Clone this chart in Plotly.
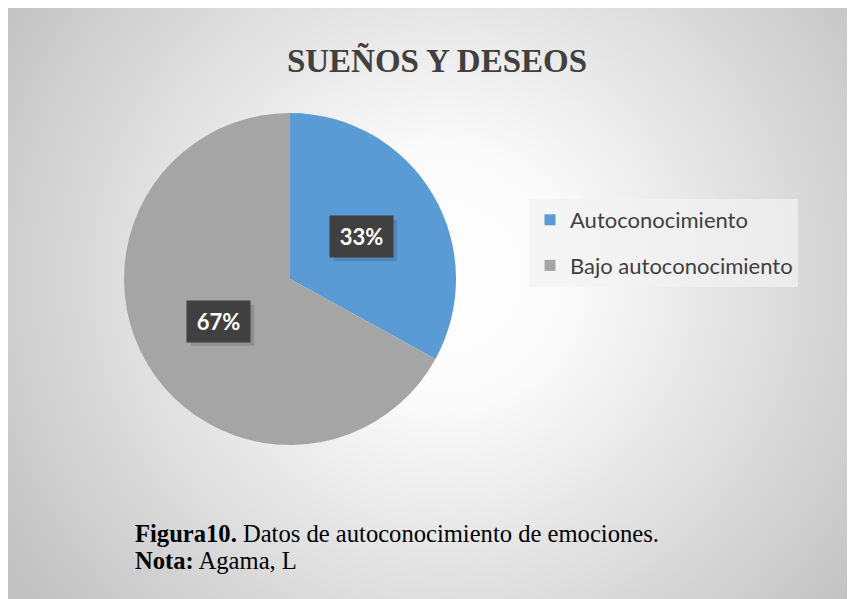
import base64
import math
import plotly.graph_objects as go

# ---- data ----
categories = ["Autoconocimiento", "Bajo autoconocimiento"]
values = [33, 67]
colors = ["#5B9BD5", "#A5A5A5"]
title_text = "SUEÑOS Y DESEOS"
caption_line1 = "<b>Figura10.</b> Datos de autoconocimiento de emociones."
caption_line2 = "<b>Nota:</b> Agama, L"

W, H = 855, 599
OFF = 8  # page body margin


def px(x):
    return (x - OFF) / W


def py(y):
    return 1 - (y - OFF) / H


# pie placement (reference pixels)
pie_cx, pie_cy, pie_r = 290, 279, 166
dom_x = [px(pie_cx - pie_r), px(pie_cx + pie_r)]
dom_y = [py(pie_cy + pie_r), py(pie_cy - pie_r)]

# radial gradient background as svg
svg = f'''<svg xmlns="http://www.w3.org/2000/svg" width="{W}" height="{H}">
<defs><radialGradient id="g" gradientUnits="userSpaceOnUse" cx="{W/2+10}" cy="{H/2-30}" r="520">
<stop offset="0" stop-color="#ffffff"/><stop offset="0.25" stop-color="#fafafa"/>
<stop offset="1" stop-color="#c2c2c2"/></radialGradient></defs>
<rect width="100%" height="100%" fill="url(#g)"/></svg>'''
bg_uri = "data:image/svg+xml;base64," + base64.b64encode(svg.encode()).decode()

fig = go.Figure()
fig.add_trace(go.Pie(
    labels=categories, values=values, sort=False, direction="clockwise",
    rotation=0, marker=dict(colors=colors, line=dict(width=0)),
    textinfo="none", hoverinfo="label+percent", showlegend=False,
    domain=dict(x=dom_x, y=dom_y),
))

# legend entries
for i, (c, col) in enumerate(zip(categories, colors)):
    fig.add_trace(go.Scatter(
        x=[None], y=[None], mode="markers", name=c, legendgroup=f"g{i}",
        marker=dict(symbol="square", size=11, color=col), showlegend=True,
    ))

# data labels positioned at slice mid-angles
total = sum(values)
cum = 0
annotations = []
shapes = []
bw, bh = 63, 41
for v in values:
    mid = 90 - (cum + v / 2) / total * 360
    cum += v
    rx = pie_cx + 0.5 * pie_r * math.cos(math.radians(mid))
    ry = pie_cy - 0.5 * pie_r * math.sin(math.radians(mid))
    shapes.append(dict(
        type="rect", xref="paper", yref="paper", layer="above",
        x0=px(rx - bw / 2 + 4), x1=px(rx + bw / 2 + 4),
        y0=py(ry + bh / 2 + 4), y1=py(ry - bh / 2 + 4),
        fillcolor="rgba(40,40,40,0.18)", line=dict(width=0),
    ))
    annotations.append(dict(
        x=px(rx), y=py(ry), xref="paper", yref="paper",
        xanchor="center", yanchor="middle",
        text=f"<b>{round(v / total * 100)}%</b>", showarrow=False,
        font=dict(family="Lato", size=22, color="white"),
        bgcolor="#404040", width=bw - 8, height=bh - 8, borderpad=4,
    ))

for txt, yy in [(caption_line1, 533), (caption_line2, 560)]:
    annotations.append(dict(
        x=px(133), y=py(yy), xref="paper", yref="paper", xanchor="left", yanchor="middle",
        align="left", showarrow=False, text=txt,
        font=dict(family="Liberation Serif", size=24.6, color="#000000"),
    ))

fig.update_layout(
    width=W, height=H,
    margin=dict(l=0, r=0, t=0, b=0),
    paper_bgcolor="white", plot_bgcolor="rgba(0,0,0,0)",
    title=dict(text=f"<b>{title_text}</b>", x=px(437), xanchor="center",
               y=py(60), yanchor="middle",
               font=dict(family="Liberation Serif", size=33, color="#404040")),
    xaxis=dict(visible=False), yaxis=dict(visible=False),
    legend=dict(x=px(530), y=py(199), xanchor="left", yanchor="top",
                bgcolor="rgba(242,242,242,0.7)", tracegroupgap=14,
                traceorder="grouped",
                font=dict(family="Lato", size=22, color="#404040"),
                itemclick=False, itemdoubleclick=False),
    annotations=annotations,
    shapes=shapes,
    images=[dict(source=bg_uri, xref="paper", yref="paper", x=0, y=1,
                 sizex=1, sizey=1, xanchor="left", yanchor="top",
                 sizing="stretch", layer="below")],
)

fig.write_html("out.html")
